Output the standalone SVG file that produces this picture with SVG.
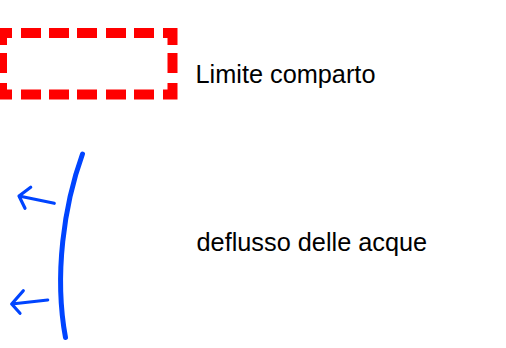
<svg xmlns="http://www.w3.org/2000/svg" width="506" height="348" viewBox="0 0 506 348">
<style>
.lbl{font-family:"Liberation Sans",Arial,sans-serif;font-size:25.3px;fill:#000}
.border{fill:none;stroke:#FF0000;stroke-width:10;stroke-linejoin:miter;stroke-linecap:butt}
.flow{fill:none;stroke:#0044FF;stroke-linecap:round;stroke-linejoin:round}
</style>
<rect width="506" height="348" fill="#fff"/>
<g id="legend-compartment">
<path class="border" d="M2,45V33H12 M21,33H41 M49,33H69 M77,33H97 M106,33H126 M134,33H154 M163,33H172.5V45 M172.5,53V73 M172.5,83V94.5H163 M154,94.5H134 M126,94.5H106 M97,94.5H77 M69,94.5H49 M41,94.5H21 M12,94.5H2V83 M2,73V53"/>
<text class="lbl" x="195.5" y="83.3">Limite comparto</text>
</g>
<g id="legend-flow">
<path class="flow" stroke-width="5" stroke-linecap="butt" d="M82.5,154 C64,205 54,275 65.5,337.5"/>
<g class="flow" stroke-width="3.2">
<path d="M54.3,203.3L19,196 M30.7,187.3L19,196L25,208.3"/>
<path d="M47.7,300L11.7,304 M23.3,290.7L11.7,304L20,313.3"/>
</g>
<text class="lbl" x="196.5" y="251.3">deflusso delle acque</text>
</g>
</svg>
